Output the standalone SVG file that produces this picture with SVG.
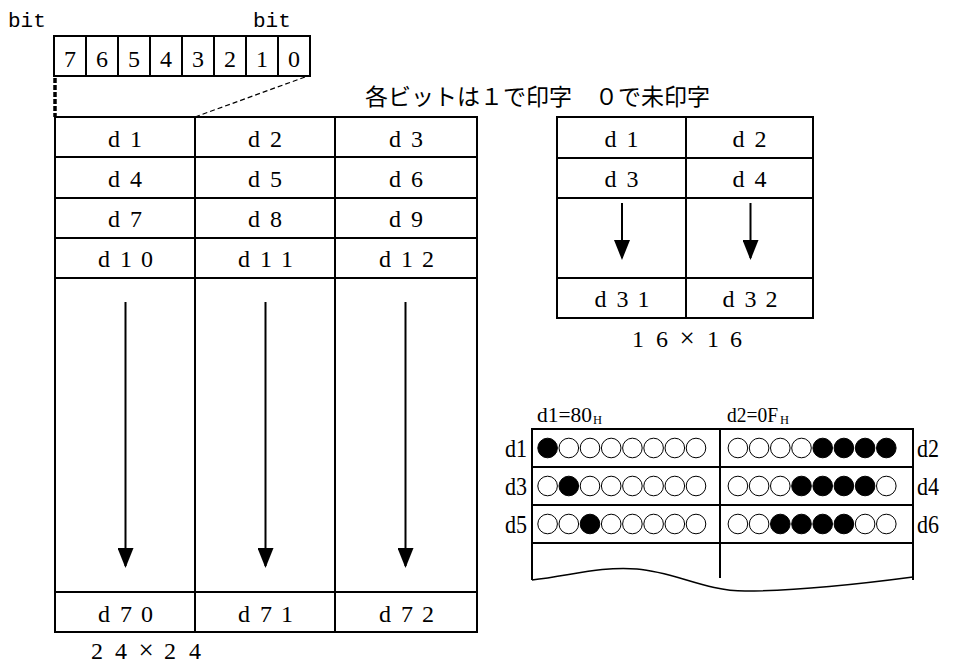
<svg xmlns="http://www.w3.org/2000/svg" width="959" height="666" viewBox="0 0 959 666">
<defs>
<style>
.ln{stroke:#000;stroke-width:2;fill:none}
.t{font-family:"Liberation Serif",serif;font-size:24px;fill:#000;text-anchor:middle}
.bt{font-family:"Liberation Mono",monospace;font-size:21px;fill:#000}
.jp{font-family:"Noto Sans CJK JP",sans-serif;font-size:23px;fill:#000}
.dl{font-family:"Liberation Serif",serif;font-size:25px;fill:#000}
.hd{font-family:"Liberation Serif",serif;font-size:20px;fill:#000}
.sb{font-family:"Liberation Serif",serif;font-size:12px;fill:#000}
.x{font-size:27px}
.on{fill:#000;stroke:#000;stroke-width:1}
.off{fill:#fff;stroke:#000;stroke-width:1}
.ar{stroke:#000;stroke-width:2}
</style>
<marker id="ah" markerWidth="20" markerHeight="16" refX="18" refY="8" orient="auto" markerUnits="userSpaceOnUse" viewBox="0 0 20 16">
<path d="M0,0 L20,8 L0,16 Z" fill="#000"/>
</marker>
</defs>
<rect width="959" height="666" fill="#fff"/>

<g id="bits">
<text class="bt" x="8" y="27">bit</text>
<text class="bt" x="253" y="27">bit</text>
<rect class="ln" x="54" y="36" width="256" height="40"/>
<path class="ln" d="M86,36V76M118,36V76M150,36V76M182,36V76M214,36V76M246,36V76M278,36V76"/>
<text class="t" x="70 102 134 166 198 230 262 294" y="67">76543210</text>
</g>

<g id="connectors">
<line x1="55" y1="78" x2="55" y2="117" stroke="#000" stroke-width="3.5" stroke-dasharray="5,2"/>
<line x1="305" y1="77" x2="195" y2="117" stroke="#000" stroke-width="1.2" stroke-dasharray="5,3"/>
<line class="ar" x1="125.5" y1="302" x2="125.5" y2="566" marker-end="url(#ah)"/>
<line class="ar" x1="265.5" y1="302" x2="265.5" y2="566" marker-end="url(#ah)"/>
<line class="ar" x1="405.5" y1="302" x2="405.5" y2="566" marker-end="url(#ah)"/>
<line class="ar" x1="622" y1="203" x2="622" y2="258" marker-end="url(#ah)"/>
<line class="ar" x1="750.5" y1="203" x2="750.5" y2="258" marker-end="url(#ah)"/>
</g>

<g id="caption">
<text class="jp" x="365" y="105">各ビットは１で印字　０で未印字</text>
</g>

<g id="table24">
<rect class="ln" x="55" y="117" width="422" height="515"/>
<path class="ln" d="M195,117V632M335,117V632M55,157H477M55,198H477M55,238H477M55,278H477M55,592H477"/>
<text class="t" x="114 136" y="147">d1</text>
<text class="t" x="254 276" y="147">d2</text>
<text class="t" x="395 417" y="147">d3</text>
<text class="t" x="114 136" y="187">d4</text>
<text class="t" x="254 276" y="187">d5</text>
<text class="t" x="395 417" y="187">d6</text>
<text class="t" x="114 136" y="227">d7</text>
<text class="t" x="254 276" y="227">d8</text>
<text class="t" x="395 417" y="227">d9</text>
<text class="t" x="104 126 147" y="267">d10</text>
<text class="t" x="244 266 287" y="267">d11</text>
<text class="t" x="385 407 428" y="267">d12</text>
<text class="t" x="104 126 147" y="622">d70</text>
<text class="t" x="244 266 287" y="622">d71</text>
<text class="t" x="385 407 428" y="622">d72</text>
<text class="t" y="659"><tspan x="97 121">24</tspan><tspan class="x" x="146">×</tspan><tspan x="170 195">24</tspan></text>
</g>

<g id="table16">
<rect class="ln" x="557" y="117" width="256" height="201"/>
<path class="ln" d="M686,117V318M557,158H813M557,198H813M557,278H813"/>
<text class="t" x="610.5 632.5" y="147">d1</text>
<text class="t" x="738.5 760.5" y="147">d2</text>
<text class="t" x="610.5 632.5" y="187">d3</text>
<text class="t" x="738.5 760.5" y="187">d4</text>
<text class="t" x="600.5 622.5 643.5" y="307">d31</text>
<text class="t" x="728.5 750.5 771.5" y="307">d32</text>
<text class="t" y="347"><tspan x="638 662">16</tspan><tspan class="x" x="687">×</tspan><tspan x="713 736">16</tspan></text>
</g>

<g id="dottable">
<text class="hd" x="537" y="422" textLength="55" lengthAdjust="spacingAndGlyphs">d1=80</text>
<text class="sb" x="593" y="424" textLength="9" lengthAdjust="spacingAndGlyphs">H</text>
<text class="hd" x="727" y="422" textLength="51" lengthAdjust="spacingAndGlyphs">d2=0F</text>
<text class="sb" x="780" y="424" textLength="9" lengthAdjust="spacingAndGlyphs">H</text>
<path class="ln" d="M532,580V429H913V580M720,429V578M532,467H913M532,505H913M532,543H913"/>
<path d="M532,580 C570,576 600,566 637,569 C675,572 705,591 745,591 C800,591 860,584 913,577" fill="none" stroke="#000" stroke-width="1.5"/>
<text class="dl" x="505" y="457" textLength="22" lengthAdjust="spacingAndGlyphs">d1</text>
<text class="dl" x="505" y="495" textLength="22" lengthAdjust="spacingAndGlyphs">d3</text>
<text class="dl" x="505" y="533" textLength="22" lengthAdjust="spacingAndGlyphs">d5</text>
<text class="dl" x="917" y="457" textLength="22" lengthAdjust="spacingAndGlyphs">d2</text>
<text class="dl" x="917" y="495" textLength="22" lengthAdjust="spacingAndGlyphs">d4</text>
<text class="dl" x="917" y="533" textLength="22" lengthAdjust="spacingAndGlyphs">d6</text>
<g id="row1">
<circle class="on" cx="547.6" cy="448" r="9.8"/><circle class="off" cx="568.8" cy="448" r="9.8"/><circle class="off" cx="590" cy="448" r="9.8"/><circle class="off" cx="611.2" cy="448" r="9.8"/><circle class="off" cx="632.4" cy="448" r="9.8"/><circle class="off" cx="653.6" cy="448" r="9.8"/><circle class="off" cx="674.8" cy="448" r="9.8"/><circle class="off" cx="696" cy="448" r="9.8"/>
<circle class="off" cx="737.9" cy="448" r="9.8"/><circle class="off" cx="759.1" cy="448" r="9.8"/><circle class="off" cx="780.3" cy="448" r="9.8"/><circle class="off" cx="801.5" cy="448" r="9.8"/><circle class="on" cx="822.7" cy="448" r="9.8"/><circle class="on" cx="843.9" cy="448" r="9.8"/><circle class="on" cx="865.1" cy="448" r="9.8"/><circle class="on" cx="886.3" cy="448" r="9.8"/>
</g>
<g id="row2">
<circle class="off" cx="547.6" cy="486" r="9.8"/><circle class="on" cx="568.8" cy="486" r="9.8"/><circle class="off" cx="590" cy="486" r="9.8"/><circle class="off" cx="611.2" cy="486" r="9.8"/><circle class="off" cx="632.4" cy="486" r="9.8"/><circle class="off" cx="653.6" cy="486" r="9.8"/><circle class="off" cx="674.8" cy="486" r="9.8"/><circle class="off" cx="696" cy="486" r="9.8"/>
<circle class="off" cx="737.9" cy="486" r="9.8"/><circle class="off" cx="759.1" cy="486" r="9.8"/><circle class="off" cx="780.3" cy="486" r="9.8"/><circle class="on" cx="801.5" cy="486" r="9.8"/><circle class="on" cx="822.7" cy="486" r="9.8"/><circle class="on" cx="843.9" cy="486" r="9.8"/><circle class="on" cx="865.1" cy="486" r="9.8"/><circle class="off" cx="886.3" cy="486" r="9.8"/>
</g>
<g id="row3">
<circle class="off" cx="547.6" cy="524" r="9.8"/><circle class="off" cx="568.8" cy="524" r="9.8"/><circle class="on" cx="590" cy="524" r="9.8"/><circle class="off" cx="611.2" cy="524" r="9.8"/><circle class="off" cx="632.4" cy="524" r="9.8"/><circle class="off" cx="653.6" cy="524" r="9.8"/><circle class="off" cx="674.8" cy="524" r="9.8"/><circle class="off" cx="696" cy="524" r="9.8"/>
<circle class="off" cx="737.9" cy="524" r="9.8"/><circle class="off" cx="759.1" cy="524" r="9.8"/><circle class="on" cx="780.3" cy="524" r="9.8"/><circle class="on" cx="801.5" cy="524" r="9.8"/><circle class="on" cx="822.7" cy="524" r="9.8"/><circle class="on" cx="843.9" cy="524" r="9.8"/><circle class="off" cx="865.1" cy="524" r="9.8"/><circle class="off" cx="886.3" cy="524" r="9.8"/>
</g>
</g>
</svg>
